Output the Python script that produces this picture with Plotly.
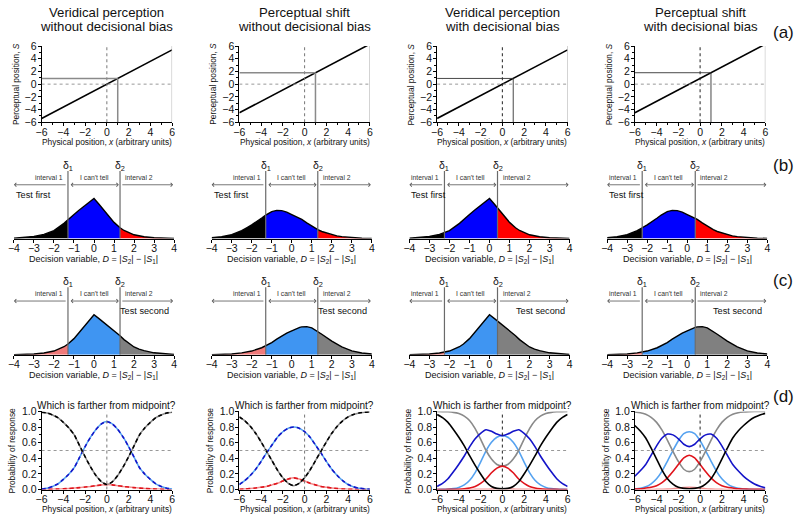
import plotly.graph_objects as go

W, H = 800, 520
FONT = "Liberation Sans, Arial, Helvetica, sans-serif"

# ---------------- data ----------------
COL_TITLE_1 = ["Veridical perception", "Perceptual shift", "Veridical perception", "Perceptual shift"]
COL_TITLE_2 = ["without decisional bias", "without decisional bias", "with decisional bias", "with decisional bias"]
ROW_LABELS = ["(a)", "(b)", "(c)", "(d)"]

# row (a): perceptual position vs physical position
PHYS_X_ENDS = [-6, 6]
S_ENDS = [[-5.4, 5.4], [-4.5, 6.3], [-5.4, 5.4], [-4.5, 6.3]]
X_PROBE = 1.0
S_PROBE = [0.9, 1.8, 0.9, 1.8]
TICKS_6 = [-6, -4, -2, 0, 2, 4, 6]

# rows (b)/(c): decision-variable densities ("test first"; "test second" is the mirror image)
D_X = [-4, -3.5, -3, -2.5, -2.25, -2, -1.5, -1.3, -1, -0.75, -0.5, -0.4, -0.25, 0,
       0.25, 0.4, 0.5, 0.75, 1, 1.3, 1.5, 2, 2.25, 2.5, 3, 3.5, 4]
DENS_VERIDICAL = [0.003, 0.008, 0.02, 0.042, 0.058, 0.08, 0.155, 0.195, 0.245, 0.29, 0.33, 0.345, 0.37, 0.41,
                  0.35, 0.315, 0.29, 0.225, 0.165, 0.11, 0.082, 0.038, 0.026, 0.018, 0.008, 0.003, 0.001]
DENS_SHIFT = [0.008, 0.018, 0.04, 0.08, 0.11, 0.14, 0.21, 0.24, 0.275, 0.288, 0.285, 0.28, 0.27, 0.245,
              0.222, 0.208, 0.195, 0.16, 0.125, 0.09, 0.072, 0.038, 0.027, 0.019, 0.008, 0.003, 0.001]
DENS_BY_COL = ["veridical", "shift", "veridical", "shift"]
DELTA1 = [-1.3, -1.3, -2.25, -2.25]
DELTA2 = [1.3, 1.3, 0.4, 0.4]
D_TICKS = [-4, -3, -2, -1, 0, 1, 2, 3, 4]

# row (d): response probabilities
PX = [-6, -5.5, -5, -4.5, -4, -3.5, -3, -2.5, -2, -1.5, -1, -0.5, 0,
      0.5, 1, 1.5, 2, 2.5, 3, 3.5, 4, 4.5, 5, 5.5, 6]
# col 1 (first/second identical)
TEST1 = [0.99, 0.98, 0.955, 0.92, 0.86, 0.79, 0.70, 0.56, 0.42, 0.29, 0.18, 0.10, 0.065,
         0.10, 0.18, 0.29, 0.42, 0.56, 0.70, 0.79, 0.86, 0.92, 0.955, 0.98, 0.99]
CANT1 = [0.008, 0.017, 0.04, 0.073, 0.13, 0.196, 0.28, 0.415, 0.55, 0.67, 0.77, 0.84, 0.87,
         0.84, 0.77, 0.67, 0.55, 0.415, 0.28, 0.196, 0.13, 0.073, 0.04, 0.017, 0.008]
STD1 = [0.002, 0.003, 0.005, 0.007, 0.01, 0.014, 0.019, 0.025, 0.032, 0.04, 0.05, 0.06, 0.065,
        0.06, 0.05, 0.04, 0.032, 0.025, 0.019, 0.014, 0.01, 0.007, 0.005, 0.003, 0.002]
# col 2
TEST2 = [0.93, 0.88, 0.81, 0.72, 0.61, 0.49, 0.37, 0.25, 0.15, 0.08, 0.05, 0.08, 0.15,
         0.25, 0.37, 0.49, 0.61, 0.72, 0.81, 0.88, 0.93, 0.96, 0.98, 0.99, 0.995]
CANT2 = [0.065, 0.115, 0.18, 0.26, 0.36, 0.47, 0.57, 0.67, 0.74, 0.785, 0.80, 0.785, 0.74,
         0.67, 0.57, 0.47, 0.36, 0.26, 0.18, 0.115, 0.065, 0.035, 0.018, 0.009, 0.004]
STD2 = [0.005, 0.008, 0.013, 0.02, 0.03, 0.04, 0.06, 0.08, 0.11, 0.135, 0.15, 0.135, 0.11,
        0.08, 0.06, 0.04, 0.03, 0.02, 0.013, 0.008, 0.005, 0.003, 0.002, 0.001, 0.001]
# col 3 (test first: black/blue/red; test second: gray/light blue/pink)
FIRST_TEST3 = [0.96, 0.92, 0.86, 0.77, 0.67, 0.56, 0.43, 0.31, 0.20, 0.10, 0.04, 0.015, 0.01,
               0.015, 0.04, 0.10, 0.20, 0.31, 0.43, 0.56, 0.67, 0.77, 0.86, 0.92, 0.96]
FIRST_CANT3 = [0.04, 0.079, 0.138, 0.227, 0.325, 0.43, 0.55, 0.65, 0.72, 0.765, 0.745, 0.71, 0.69,
               0.71, 0.745, 0.765, 0.72, 0.65, 0.55, 0.43, 0.325, 0.227, 0.138, 0.079, 0.04]
FIRST_STD3 = [0.0, 0.001, 0.002, 0.003, 0.005, 0.01, 0.02, 0.04, 0.08, 0.135, 0.215, 0.275, 0.30,
              0.275, 0.215, 0.135, 0.08, 0.04, 0.02, 0.01, 0.005, 0.003, 0.002, 0.001, 0.0]
SECOND_TEST3 = [0.999, 0.998, 0.995, 0.988, 0.972, 0.94, 0.88, 0.78, 0.645, 0.50, 0.39, 0.32, 0.30,
                0.32, 0.39, 0.50, 0.645, 0.78, 0.88, 0.94, 0.972, 0.988, 0.995, 0.998, 0.999]
SECOND_CANT3 = [0.001, 0.002, 0.005, 0.012, 0.028, 0.06, 0.12, 0.218, 0.352, 0.496, 0.605, 0.67, 0.69,
                0.67, 0.605, 0.496, 0.352, 0.218, 0.12, 0.06, 0.028, 0.012, 0.005, 0.002, 0.001]
SECOND_STD3 = [0.0, 0.0, 0.0, 0.0, 0.0, 0.0, 0.001, 0.002, 0.003, 0.004, 0.006, 0.008, 0.01,
               0.008, 0.006, 0.004, 0.003, 0.002, 0.001, 0.0, 0.0, 0.0, 0.0, 0.0, 0.0]
# col 4
FIRST_TEST4 = [0.82, 0.75, 0.66, 0.53, 0.39, 0.25, 0.14, 0.07, 0.03, 0.015, 0.01, 0.015, 0.03,
               0.07, 0.14, 0.25, 0.39, 0.53, 0.66, 0.75, 0.82, 0.88, 0.925, 0.955, 0.975]
FIRST_CANT4 = [0.17, 0.24, 0.32, 0.44, 0.56, 0.66, 0.71, 0.70, 0.65, 0.58, 0.55, 0.58, 0.65,
               0.70, 0.71, 0.66, 0.56, 0.44, 0.32, 0.24, 0.17, 0.115, 0.072, 0.043, 0.024]
FIRST_STD4 = [0.007, 0.01, 0.02, 0.03, 0.05, 0.09, 0.15, 0.23, 0.32, 0.405, 0.44, 0.405, 0.32,
              0.23, 0.15, 0.09, 0.05, 0.03, 0.02, 0.01, 0.007, 0.005, 0.003, 0.002, 0.001]
SECOND_TEST4 = [0.993, 0.984, 0.965, 0.925, 0.86, 0.76, 0.63, 0.49, 0.36, 0.26, 0.23, 0.26, 0.36,
                0.49, 0.63, 0.76, 0.86, 0.925, 0.965, 0.984, 0.993, 0.997, 0.999, 1.0, 1.0]
SECOND_CANT4 = [0.007, 0.016, 0.035, 0.074, 0.138, 0.237, 0.365, 0.50, 0.625, 0.715, 0.74, 0.715, 0.625,
                0.50, 0.365, 0.237, 0.138, 0.074, 0.035, 0.016, 0.007, 0.003, 0.001, 0.0, 0.0]
SECOND_STD4 = [0.0, 0.0, 0.0, 0.001, 0.002, 0.004, 0.006, 0.01, 0.018, 0.025, 0.03, 0.025, 0.018,
               0.01, 0.006, 0.004, 0.002, 0.001, 0.0, 0.0, 0.0, 0.0, 0.0, 0.0, 0.0]
PROB_TICKS = [0, 0.2, 0.4, 0.6, 0.8, 1.0]
PROB_TICKTEXT = ["0.0", "0.2", "0.4", "0.6", "0.8", "1.0"]

# ---------------- styles / geometry ----------------
C_BLACK, C_GRAY = "#000000", "#8a8a8a"
C_BLUE, C_LBLUE = "#1414c8", "#55a2f0"
C_RED, C_PINK = "#e0141c", "#f29090"
FILL_B = ["#000000", "#0000ff", "#ff0000"]
FILL_C = ["#f07a7a", "#3f95f2", "#808080"]

COL_STEP = 200
AD_L, AD_R = 36, 168
BC_L, BC_R = 8, 170
A_T, A_B = 41, 119
B_T, B_B = 150, 238
C_T, C_B = 269, 357
D_T, D_B = 415, 495
BC_YMAX = 0.88


def fx(p):
    return p / W


def fy(p):
    return 1 - p / H


fig = go.Figure()
layout = {}
shapes = []
ann = []
counter = [0]


def new_axes(xl, xr, yt, yb, xrange, yrange, xtickvals, ytickvals=None, yticktext=None,
             xminor=None, yminor=None, yvisible=True, tickfont=10.5):
    counter[0] += 1
    n = counter[0]
    s = "" if n == 1 else str(n)
    tf = dict(family=FONT, size=tickfont, color="#111")
    xa = dict(domain=[fx(xl), fx(xr)], range=xrange, anchor="y" + s, showgrid=False, zeroline=False,
              showline=True, linecolor="black", linewidth=1, ticks="outside", ticklen=3, tickwidth=1,
              tickcolor="black", tickvals=xtickvals, tickfont=tf, fixedrange=True,
              ticklabelstandoff=-3)
    if xminor:
        xa["minor"] = dict(ticks="outside", ticklen=2, tickwidth=1, tickcolor="black", dtick=xminor,
                           showgrid=False)
    ya = dict(domain=[fy(yb), fy(yt)], range=yrange, anchor="x" + s, showgrid=False, zeroline=False,
              fixedrange=True)
    if yvisible:
        ya.update(showline=True, linecolor="black", linewidth=1, ticks="outside", ticklen=3, tickwidth=1,
                  tickcolor="black", tickvals=ytickvals, tickfont=tf, ticklabelstandoff=-1)
        if yticktext:
            ya["ticktext"] = yticktext
        if yminor:
            ya["minor"] = dict(ticks="outside", ticklen=2, tickwidth=1, tickcolor="black", dtick=yminor,
                               showgrid=False)
    else:
        ya["visible"] = False
    layout["xaxis" + s] = xa
    layout["yaxis" + s] = ya
    return "x" + s, "y" + s


def text(x, y, t, size, **kw):
    d = dict(x=fx(x), y=fy(y), xref="paper", yref="paper", text=t, showarrow=False,
             font=dict(family=FONT, size=size, color=kw.pop("color", "#111")),
             xanchor=kw.pop("xanchor", "center"), yanchor=kw.pop("yanchor", "middle"))
    d.update(kw)
    ann.append(d)


def line(xr, yr, x0, y0, x1, y1, color, width, dash="solid"):
    shapes.append(dict(type="line", xref=xr, yref=yr, x0=x0, y0=y0, x1=x1, y1=y1,
                       line=dict(color=color, width=width, dash=dash), layer="above"))


def dens(kind):
    return DENS_VERIDICAL if kind == "veridical" else DENS_SHIFT


for k in range(4):
    off = COL_STEP * k
    cx_ad = (AD_L + AD_R) / 2 + off
    cx_bc = (BC_L + BC_R) / 2 + off

    # column titles
    text(cx_ad, 6.5, COL_TITLE_1[k], 13.2)
    text(cx_ad, 20.5, COL_TITLE_2[k], 13.2)

    # ---------- (a) ----------
    xr, yr = new_axes(AD_L + off, AD_R + off, A_T, A_B, [-6, 6], [-6, 6], TICKS_6, TICKS_6,
                      xminor=1, yminor=1)
    probe_col = C_GRAY if k < 2 else "#333333"
    probe_w = 1.5 if k < 2 else 0.9
    line(xr, yr, 0, -6, 0, 6, "#777777" if k < 2 else "#222222", 1, "dot")
    line(xr, yr, -6, 0, 6, 0, "#999999", 1, "dot")
    line(xr, yr, 6, -6, 6, 6, "#b0b0b0", 1)
    line(xr, yr, -6, S_PROBE[k], X_PROBE, S_PROBE[k], probe_col, probe_w)
    line(xr, yr, X_PROBE, -6, X_PROBE, S_PROBE[k], probe_col, probe_w)
    fig.add_trace(go.Scatter(x=PHYS_X_ENDS, y=S_ENDS[k], mode="lines", xaxis=xr, yaxis=yr,
                             line=dict(color="black", width=1.6), showlegend=False, hoverinfo="skip"))
    text(cx_ad, 139.5, "Physical position, <i>x</i> (arbitrary units)", 8.4)
    text(10 + off, (A_T + A_B) / 2, "Perceptual position, <i>S</i>", 8.4, textangle=-90)

    # ---------- (b) and (c) ----------
    for row, (top, bot) in enumerate([(B_T, B_B), (C_T, C_B)]):
        xr, yr = new_axes(BC_L + off, BC_R + off, top, bot, [-4, 4], [0, BC_YMAX], D_TICKS,
                          yvisible=False, tickfont=10.5)
        base = dens(DENS_BY_COL[k])
        if row == 0:
            xs, ys, fills = list(D_X), list(base), FILL_B
        else:
            xs = [-v for v in D_X][::-1]
            ys = list(base)[::-1]
            fills = FILL_C
        d1, d2 = DELTA1[k], DELTA2[k]
        for (lo, hi), col in zip([(-4, d1), (d1, d2), (d2, 4)], fills):
            sx = [x for x in xs if lo - 1e-9 <= x <= hi + 1e-9]
            sy = [y for x, y in zip(xs, ys) if lo - 1e-9 <= x <= hi + 1e-9]
            fig.add_trace(go.Scatter(x=sx, y=sy, mode="lines", fill="tozeroy", fillcolor=col,
                                     line=dict(width=0, color=col), xaxis=xr, yaxis=yr,
                                     showlegend=False, hoverinfo="skip"))
        fig.add_trace(go.Scatter(x=xs, y=ys, mode="lines", line=dict(color="black", width=1.4),
                                 xaxis=xr, yaxis=yr, showlegend=False, hoverinfo="skip"))
        for dv, lab in [(d1, "δ<sub>1</sub>"), (d2, "δ<sub>2</sub>")]:
            line(xr, yr, dv, 0, dv, 0.69, "#6a6a6a", 1.2)
            ann.append(dict(x=dv, y=0.745, xref=xr, yref=yr, text=lab, showarrow=False,
                            font=dict(family=FONT, size=10.5, color="#111"), yanchor="middle"))
        ay = 0.55
        arrow = dict(xref=xr, yref=yr, axref=xr, ayref=yr, text="", showarrow=True, arrowhead=4,
                     arrowsize=0.9, arrowwidth=0.8, arrowcolor="#555555", y=ay, ay=ay)
        ann.append(dict(arrow, x=-4.0, ax=d1 - 0.04))
        ann.append(dict(arrow, x=d2 - 0.06, ax=d1 + 0.06, arrowside="end+start", startarrowhead=4,
                        startarrowsize=0.9))
        ann.append(dict(arrow, x=3.95, ax=d2 + 0.04))
        lab_font = dict(family=FONT, size=6.8, color="#333")
        ann.append(dict(x=d1 - 0.15, y=0.625, xref=xr, yref=yr, text="interval 1", showarrow=False,
                        font=lab_font, xanchor="right", yanchor="middle"))
        ann.append(dict(x=(d1 + d2) / 2, y=0.625, xref=xr, yref=yr, text="I can't tell", showarrow=False,
                        font=lab_font, xanchor="center", yanchor="middle"))
        ann.append(dict(x=d2 + 0.15, y=0.625, xref=xr, yref=yr, text="interval 2", showarrow=False,
                        font=lab_font, xanchor="left", yanchor="middle"))
        if row == 0:
            ann.append(dict(x=-4, y=0.45, xref=xr, yref=yr, text="Test first", showarrow=False,
                            font=dict(family=FONT, size=9.2, color="#111"), xanchor="left",
                            yanchor="middle"))
        else:
            ann.append(dict(x=3.85, y=0.45, xref=xr, yref=yr, text="Test second", showarrow=False,
                            font=dict(family=FONT, size=9.2, color="#111"), xanchor="right",
                            yanchor="middle"))
        text(cx_bc, bot + 21, "Decision variable, <i>D</i> = |<i>S</i><sub>2</sub>| − |<i>S</i><sub>1</sub>|", 9)

    # ---------- (d) ----------
    xr, yr = new_axes(AD_L + off, AD_R + off, D_T, D_B, [-6, 6], [0, 1.0], TICKS_6, PROB_TICKS,
                      PROB_TICKTEXT, xminor=1, yminor=0.1)
    line(xr, yr, 0, 0, 0, 1, "#777777" if k < 2 else "#222222", 1, "dot")
    line(xr, yr, -6, 0.5, 6, 0.5, "#999999", 1, "dot")

    def curve(y, color, dash="solid", width=1.6):
        fig.add_trace(go.Scatter(x=PX, y=y, mode="lines", line=dict(color=color, width=width, dash=dash,
                                                                   shape="spline", smoothing=0.6),
                                 xaxis=xr, yaxis=yr, showlegend=False, hoverinfo="skip"))

    if k < 2:
        tst, cnt, std = (TEST1, CANT1, STD1) if k == 0 else (TEST2, CANT2, STD2)
        for y, light, dark in [(std, C_PINK, C_RED), (cnt, C_LBLUE, C_BLUE), (tst, C_GRAY, C_BLACK)]:
            curve(y, light, "solid", 1.5)
            curve(y, dark, "4px,3px", 1.6)
    else:
        if k == 2:
            sets = [(SECOND_STD3, C_PINK), (SECOND_CANT3, C_LBLUE), (SECOND_TEST3, C_GRAY),
                    (FIRST_STD3, C_RED), (FIRST_CANT3, C_BLUE), (FIRST_TEST3, C_BLACK)]
        else:
            sets = [(SECOND_STD4, C_PINK), (SECOND_CANT4, C_LBLUE), (SECOND_TEST4, C_GRAY),
                    (FIRST_STD4, C_RED), (FIRST_CANT4, C_BLUE), (FIRST_TEST4, C_BLACK)]
        for y, c in sets:
            curve(y, c, "solid", 1.6)
    text(cx_ad, 409, "Which is farther from midpoint?", 10)
    text(cx_ad, 515, "Physical position, <i>x</i> (arbitrary units)", 8.4)
    text(6 + off, (D_T + D_B) / 2, "Probability of response", 8.4, textangle=-90)

# row labels
for lab, y in zip(ROW_LABELS, [27, 163, 281, 400]):
    text(786, y, lab, 17)

fig.update_layout(width=W, height=H, margin=dict(l=0, r=0, t=0, b=0), paper_bgcolor="white",
                  plot_bgcolor="rgba(0,0,0,0)", showlegend=False, font=dict(family=FONT),
                  shapes=shapes, annotations=ann, **layout)
fig.write_html("out.html", config={"displayModeBar": False},
               post_script="document.body.style.margin='0px';document.body.style.overflow='hidden';")
